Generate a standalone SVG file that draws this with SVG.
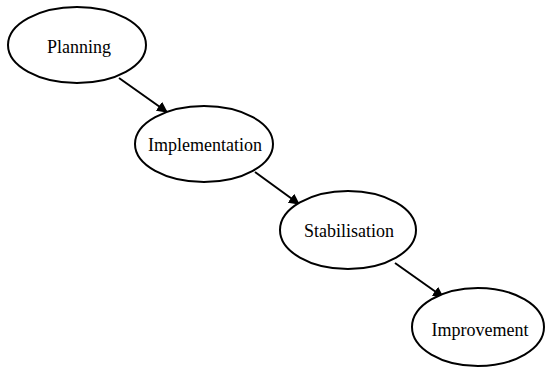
<svg xmlns="http://www.w3.org/2000/svg" width="545" height="369" viewBox="0 0 545 369">
<style>
.n ellipse{fill:#fff;stroke:#000;stroke-width:2}
.n text{font-family:"Liberation Serif","Times New Roman",serif;font-size:18px;fill:#000;text-anchor:middle}
.c line{stroke:#000;stroke-width:2;marker-end:url(#ah)}
</style>
<defs>
<marker id="ah" viewBox="0 0 10 10" refX="9" refY="5" markerWidth="5.5" markerHeight="5.5" orient="auto" markerUnits="strokeWidth">
<path d="M0,0 L10,5 L0,10 z" fill="#000"/>
</marker>
</defs>
<rect width="545" height="369" fill="#fff"/>
<g class="c">
<line x1="119" y1="78" x2="167" y2="112"/>
<line x1="255" y1="172" x2="299" y2="204"/>
<line x1="395" y1="263" x2="443" y2="297"/>
</g>
<g id="planning" class="n">
<ellipse cx="77" cy="45" rx="69" ry="38"/>
<text x="79" y="53">Planning</text>
</g>
<g id="implementation" class="n">
<ellipse cx="204" cy="144" rx="69" ry="38"/>
<text x="205" y="151">Implementation</text>
</g>
<g id="stabilisation" class="n">
<ellipse cx="348" cy="230" rx="68" ry="39"/>
<text x="349" y="237">Stabilisation</text>
</g>
<g id="improvement" class="n">
<ellipse cx="478" cy="327" rx="66" ry="39"/>
<text x="480" y="336">Improvement</text>
</g>
</svg>
